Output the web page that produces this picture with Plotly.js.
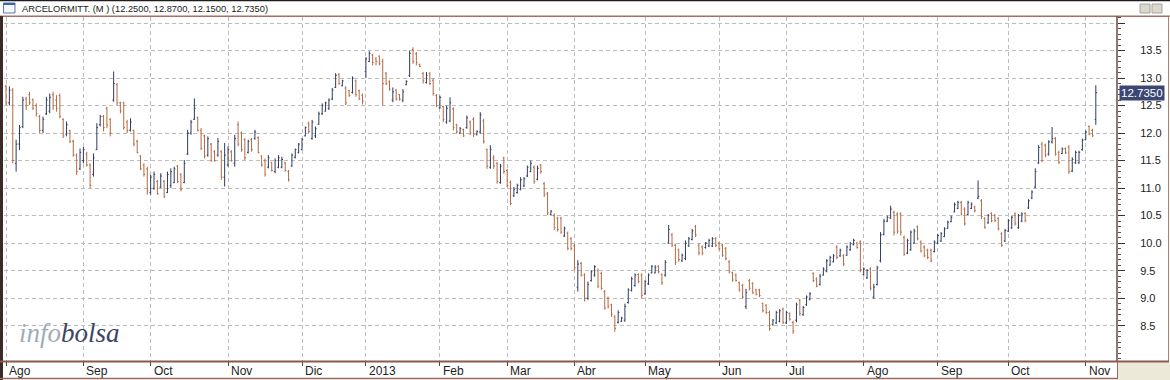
<!DOCTYPE html>
<html>
<head>
<meta charset="utf-8">
<script src="https://cdn.plot.ly/plotly-3.0.1.min.js"></script>
<style>html,body{margin:0;padding:0;background:#fff;}#chart{width:1170px;height:380px;}</style>
</head>
<body>
<div id="chart"></div>
<script>
// Daily OHLC, ArcelorMittal (Madrid), Aug 2012 - Nov 2013
const openP = [
12.85,12.55,12.78,11.45,11.80,12.12,12.62,12.70,12.60,12.50,12.30,12.05,12.35,12.40,12.70,12.60,12.68,12.25,11.98,12.05,11.85,11.60,11.35,
11.50,11.62,11.42,11.25,11.70,12.15,12.30,12.45,12.25,12.60,12.88,12.55,12.55,12.20,12.05,12.05,11.85,11.58,11.42,11.35,
10.92,11.00,11.12,11.02,11.12,10.92,11.05,11.10,11.40,11.25,11.10,11.62,12.00,12.25,12.28,12.05,11.95,11.60,11.80,11.66,11.60,11.66,11.20,
11.42,11.66,11.45,12.15,12.00,11.88,11.65,11.88,11.90,11.92,11.58,11.50,11.38,11.46,11.30,11.38,11.38,11.46,11.30,11.40,11.56,11.65,
11.70,11.95,12.18,11.90,11.95,12.16,12.35,12.40,12.45,12.62,12.83,13.06,12.86,12.82,12.77,12.74,12.95,12.77,12.68,
13.12,13.30,13.42,13.35,13.40,13.30,13.08,12.93,12.60,12.78,12.70,12.60,12.88,13.05,13.52,13.44,13.25,13.08,12.92,13.08,12.96,12.68,
12.46,12.48,12.20,12.22,12.44,12.15,12.00,12.06,12.10,12.20,12.25,11.97,12.02,12.22,11.70,11.38,11.55,11.45,11.10,11.55,
11.32,11.10,10.86,10.92,10.98,11.04,11.22,11.30,11.38,11.16,11.42,11.08,10.90,10.52,10.50,10.45,10.45,10.13,10.18,10.08,
9.95,9.20,9.63,9.42,9.00,9.32,9.42,9.50,9.45,9.12,9.00,8.88,8.66,8.56,8.58,8.60,8.92,9.14,9.23,9.43,9.42,
9.08,9.26,9.46,9.46,9.58,9.43,9.42,10.00,10.15,9.96,9.88,9.68,9.72,9.95,10.07,10.30,9.96,9.93,9.92,9.95,9.95,10.08,
10.00,9.96,9.90,9.66,9.46,9.42,9.28,9.23,8.85,9.32,9.27,9.15,9.15,8.90,8.87,8.74,8.52,8.55,8.58,8.80,
8.55,8.72,8.56,8.60,8.96,8.70,8.88,8.98,9.45,9.35,9.25,9.42,9.49,9.60,9.66,9.93,9.77,9.77,9.78,9.88,9.97,10.00,10.02,
9.43,9.37,9.53,9.02,9.25,9.68,10.16,10.40,10.46,10.56,10.53,10.53,10.10,9.82,9.88,10.00,10.30,10.02,9.93,9.87,9.87,9.85,
10.00,10.04,10.12,10.27,10.39,10.57,10.63,10.74,10.62,10.52,10.63,10.66,10.82,10.77,10.45,10.37,10.54,10.51,10.45,10.17,10.04,
10.22,10.28,10.53,10.28,10.40,10.54,10.64,10.82,11.02,11.46,11.80,11.78,11.62,11.84,11.90,11.65,11.63,11.72,11.75,11.31,11.46,11.46,11.70,
11.88,12.12,12.05,12.25
];
const highP = [
12.88,12.85,12.82,11.88,12.15,12.66,12.66,12.75,12.63,12.54,12.33,12.30,12.66,12.72,12.75,12.69,12.72,12.27,12.21,12.06,11.88,11.63,11.72,
11.75,11.66,11.45,11.63,12.18,12.33,12.33,12.48,12.27,13.12,12.91,12.57,12.57,12.24,12.27,12.06,11.88,11.60,11.45,11.39,
11.24,11.30,11.15,11.27,11.15,11.30,11.36,11.39,11.42,11.27,11.51,12.06,12.24,12.63,12.30,12.09,11.97,11.94,11.82,11.69,11.91,11.69,11.82,
11.76,11.69,11.97,12.21,12.03,11.91,11.88,11.91,12.06,11.94,11.60,11.54,11.60,11.48,11.54,11.60,11.57,11.48,11.33,11.63,11.72,11.82,
11.91,12.12,12.21,12.24,12.12,12.39,12.54,12.57,12.63,12.82,13.09,13.09,12.97,12.85,12.79,13.03,12.97,12.79,12.72,
13.38,13.49,13.44,13.38,13.41,13.35,13.11,12.96,12.83,12.80,12.71,12.80,12.96,13.50,13.56,13.47,13.26,13.11,13.11,13.11,12.99,12.71,
12.68,12.50,12.50,12.65,12.47,12.17,12.11,12.08,12.32,12.23,12.29,12.05,12.38,12.26,11.72,11.78,11.60,11.47,11.44,11.57,
11.35,11.14,11.02,11.08,11.20,11.20,11.41,11.50,11.41,11.41,11.44,11.11,10.93,10.60,10.54,10.48,10.48,10.30,10.21,10.11,
9.99,9.69,9.66,9.45,9.30,9.51,9.60,9.54,9.48,9.15,9.03,8.90,8.69,8.78,8.66,8.90,9.18,9.39,9.45,9.45,9.45,
9.33,9.45,9.60,9.60,9.60,9.45,9.69,10.33,10.18,9.99,9.90,9.81,10.05,10.11,10.26,10.33,9.99,9.96,10.02,10.08,10.11,10.11,
10.02,9.99,9.93,9.69,9.48,9.45,9.30,9.26,9.17,9.35,9.29,9.17,9.17,8.92,8.89,8.77,8.62,8.77,8.80,8.83,
8.77,8.74,8.59,8.92,8.99,8.86,9.05,9.11,9.47,9.38,9.44,9.56,9.71,9.77,9.80,9.96,9.90,9.80,9.96,10.02,10.08,10.02,10.05,
9.56,9.53,9.56,9.26,9.59,10.20,10.44,10.50,10.68,10.59,10.56,10.56,10.14,10.08,10.23,10.26,10.32,10.05,9.96,9.90,9.90,10.05,
10.17,10.20,10.29,10.41,10.50,10.74,10.77,10.77,10.65,10.77,10.74,10.68,11.14,10.80,10.47,10.53,10.56,10.53,10.47,10.20,10.26,
10.44,10.50,10.56,10.53,10.56,10.56,10.80,10.96,11.36,11.78,11.84,11.81,11.87,12.11,11.93,11.68,11.74,11.74,11.78,11.56,11.68,11.68,11.90,
12.05,12.14,12.08,12.87
];
const lowP = [
12.51,12.50,11.45,11.30,11.69,12.09,12.42,12.51,12.42,12.30,12.00,12.00,12.33,12.36,12.42,12.39,12.27,11.91,11.94,11.82,11.57,11.24,11.33,
11.45,11.39,11.00,11.21,11.69,12.12,12.03,12.09,11.94,12.57,12.51,12.36,12.06,12.00,12.03,11.76,11.63,11.33,11.21,10.88,
10.88,10.97,10.88,11.00,10.82,10.91,11.00,11.09,11.09,10.94,11.09,11.60,11.97,12.24,12.03,11.69,11.54,11.57,11.48,11.48,11.57,11.15,11.03,
11.39,11.48,11.39,11.76,11.66,11.51,11.63,11.66,11.88,11.63,11.39,11.21,11.36,11.30,11.27,11.36,11.36,11.30,11.12,11.39,11.54,11.63,
11.69,11.94,12.00,11.88,11.91,12.15,12.33,12.39,12.42,12.60,12.82,12.88,12.85,12.51,12.66,12.72,12.66,12.60,12.52,
13.00,13.29,13.23,13.23,13.23,12.50,12.87,12.77,12.56,12.59,12.59,12.56,12.87,13.02,13.26,13.23,13.20,12.90,12.90,12.87,12.68,12.47,
12.44,12.20,12.17,12.20,12.05,11.99,11.99,11.93,12.08,11.96,11.93,11.96,11.99,11.81,11.35,11.35,11.35,11.08,11.08,11.26,
11.02,10.69,10.84,10.90,10.96,11.02,11.20,11.29,11.08,11.14,11.26,10.84,10.51,10.51,10.24,10.21,10.17,10.11,9.87,9.87,
9.51,9.12,9.39,8.94,8.97,9.30,9.39,9.18,9.15,8.79,8.81,8.66,8.39,8.54,8.57,8.57,8.90,9.12,9.21,9.27,9.00,
9.06,9.24,9.45,9.45,9.45,9.24,9.39,9.99,9.93,9.60,9.66,9.66,9.69,9.93,10.05,10.11,9.78,9.78,9.90,9.93,9.93,9.93,
9.87,9.75,9.69,9.45,9.30,9.30,9.12,8.99,8.80,9.14,9.08,9.05,9.02,8.74,8.71,8.41,8.50,8.53,8.56,8.53,
8.53,8.59,8.35,8.56,8.68,8.68,8.86,8.96,9.29,9.20,9.23,9.41,9.47,9.59,9.65,9.71,9.75,9.59,9.77,9.86,9.96,9.90,9.47,
9.41,9.35,9.14,8.99,9.23,9.65,10.14,10.38,10.44,10.14,10.17,10.14,9.77,9.80,9.86,9.99,10.05,9.83,9.74,9.71,9.65,9.83,
9.99,10.02,10.11,10.26,10.38,10.56,10.62,10.50,10.32,10.50,10.62,10.56,10.80,10.44,10.26,10.35,10.38,10.38,10.23,9.93,10.02,
10.20,10.26,10.32,10.26,10.38,10.38,10.62,10.80,11.00,11.44,11.47,11.56,11.59,11.81,11.59,11.44,11.62,11.62,11.26,11.29,11.44,11.44,11.68,
11.87,11.96,11.93,12.15
];
const closeP = [
12.55,12.78,11.50,11.80,12.10,12.60,12.50,12.55,12.45,12.35,12.05,12.25,12.60,12.65,12.50,12.45,12.30,11.95,12.15,11.85,11.60,11.30,11.65,
11.70,11.42,11.05,11.55,12.10,12.30,12.10,12.15,12.00,12.90,12.55,12.40,12.10,12.05,12.20,11.80,11.65,11.35,11.25,10.95,
11.20,11.25,10.90,11.22,10.85,11.25,11.30,11.35,11.12,10.98,11.45,12.00,12.20,12.45,12.05,11.72,11.58,11.90,11.50,11.50,11.85,11.20,11.60,
11.70,11.50,11.90,11.80,11.70,11.55,11.85,11.70,12.02,11.65,11.42,11.25,11.55,11.32,11.50,11.55,11.52,11.32,11.15,11.60,11.70,11.80,
11.88,12.10,12.03,12.20,12.08,12.35,12.50,12.55,12.60,12.78,13.05,12.90,12.95,12.55,12.68,13.00,12.70,12.62,12.58,
13.35,13.45,13.28,13.30,13.26,12.90,12.90,12.80,12.75,12.62,12.62,12.75,12.94,13.45,13.30,13.28,13.21,12.95,13.05,12.90,12.72,12.50,
12.65,12.25,12.45,12.55,12.10,12.02,12.08,11.95,12.28,12.00,11.98,12.03,12.33,11.85,11.40,11.70,11.40,11.12,11.40,11.30,
11.05,10.72,10.98,11.05,11.15,11.17,11.38,11.45,11.12,11.36,11.30,10.88,10.55,10.58,10.28,10.25,10.20,10.27,9.90,9.90,
9.55,9.62,9.42,9.00,9.25,9.48,9.57,9.22,9.18,8.82,8.85,8.70,8.45,8.74,8.64,8.85,9.15,9.35,9.42,9.30,9.05,
9.30,9.42,9.58,9.56,9.48,9.28,9.65,10.25,9.96,9.65,9.70,9.78,10.00,10.08,10.22,10.15,9.82,9.82,10.00,10.05,10.08,9.96,
9.90,9.78,9.72,9.48,9.33,9.32,9.15,9.02,9.10,9.18,9.10,9.07,9.05,8.77,8.74,8.45,8.60,8.74,8.77,8.56,
8.74,8.62,8.40,8.88,8.72,8.83,9.02,9.08,9.32,9.22,9.40,9.53,9.68,9.74,9.77,9.74,9.87,9.62,9.93,9.99,10.05,9.92,9.52,
9.53,9.50,9.18,9.20,9.55,10.15,10.40,10.47,10.62,10.20,10.22,10.20,9.80,10.05,10.20,10.22,10.08,9.86,9.77,9.74,9.68,10.02,
10.14,10.17,10.26,10.38,10.47,10.70,10.74,10.53,10.35,10.74,10.71,10.59,10.85,10.48,10.29,10.50,10.41,10.41,10.26,9.96,10.23,
10.41,10.47,10.35,10.50,10.53,10.41,10.77,10.93,11.30,11.74,11.50,11.60,11.84,11.90,11.62,11.47,11.71,11.64,11.30,11.52,11.65,11.65,11.87,
12.02,11.98,11.95,12.735
];
// First trading day of each month (trading-day number) and its label
const monthStart = [0,23,43,66,88,107,129,149,169,190,212,232,255,277,298,321];
const monthLabel = ["Ago","Sep","Oct","Nov","Dic","2013","Feb","Mar","Abr","May","Jun","Jul","Ago","Sep","Oct","Nov"];
const yTickVals = [8.5,9.0,9.5,10.0,10.5,11.0,11.5,12.0,12.5,13.0,13.5,14.0];
const yTickText = ["8.5","9.0","9.5","10.0","10.5","11.0","11.5","12.0","12.5","13.0","13.5",""];
const titleText = "ARCELORMITT. (M ) (12.2500, 12.8700, 12.1500, 12.7350)";
const lastClose = "12.7350";

const tradingDay = closeP.map((_, i) => i);

// pixel helpers for the frame (plot area: x 4..1117, y 17..361)
const X = px => (px - 4) / 1113;
const Y = py => (361 - py) / 344;
const hline = (py, x0, x1, color, w) => ({type:'line', xref:'paper', yref:'paper', x0:X(x0), x1:X(x1), y0:Y(py), y1:Y(py), line:{color:color, width:w}});
const vline = (px, y0, y1, color, w) => ({type:'line', xref:'paper', yref:'paper', x0:X(px), x1:X(px), y0:Y(y0), y1:Y(y1), line:{color:color, width:w}});

const trace = {
  type: 'ohlc',
  x: tradingDay,
  open: openP, high: highP, low: lowP, close: closeP,
  increasing: {line: {color: '#2f3a5e', width: 1}},
  decreasing: {line: {color: '#b4693f', width: 1}},
  tickwidth: 0.35,
  hoverinfo: 'skip'
};

const gridDash = '4px,3px';
const layout = {
  width: 1170, height: 380,
  margin: {l: 4, r: 53, t: 17, b: 19, pad: 0},
  paper_bgcolor: '#ffffff', plot_bgcolor: '#ffffff',
  showlegend: false,
  font: {family: 'Liberation Sans, Arial, sans-serif', color: '#222'},
  xaxis: {
    range: [-0.6, 330.3], tickmode: 'array', tickvals: monthStart,
    showticklabels: false, ticks: 'outside', ticklen: 4, tickcolor: '#444', tickwidth: 1,
    showgrid: true, gridcolor: '#bdbdbd', griddash: gridDash, gridwidth: 1,
    zeroline: false, showline: false, rangeslider: {visible: false}, fixedrange: true
  },
  yaxis: {
    side: 'right', range: [7.858, 14.11], tickmode: 'array', tickvals: yTickVals, ticktext: yTickText,
    ticks: 'outside', ticklen: 7, tickcolor: '#333', tickwidth: 1,
    tickfont: {family: 'Liberation Sans, Arial, sans-serif', size: 11, color: '#222'},
    ticklabelstandoff: 13,
    minor: {ticks: 'outside', ticklen: 3, tickcolor: '#555', tickmode: 'linear', tick0: 0, dtick: 0.1, showgrid: false},
    showgrid: true, gridcolor: '#bdbdbd', griddash: gridDash, gridwidth: 1,
    zeroline: false, showline: false, fixedrange: true
  },
  shapes: [
    {type:'rect', xref:'paper', yref:'paper', x0:X(1118), x1:X(1171), y0:Y(381), y1:Y(362.5), fillcolor:'#ece9d8', line:{width:0}},
    hline(0.5, 0, 1170, '#1e1e1e', 1.5),
    hline(16.2, 0, 1170, '#a27262', 1.5),
    vline(1.5, 16, 380, '#3a2a28', 3),
    vline(1117, 16, 362, '#6a4a42', 1.5),
    vline(1168.5, 16, 362, '#b08070', 1),
    hline(361.5, 0, 1169, '#8a5a4e', 2),
    hline(378.5, 0, 1118, '#9a6a5e', 1.5),
    vline(1117.5, 362, 379, '#9a6a5e', 1),
    {type:'rect', xref:'paper', yref:'paper', x0:X(3.5), x1:X(15), y0:Y(13), y1:Y(3), fillcolor:'#f4f6fa', line:{color:'#5a78a8', width:1}},
    hline(4, 3.5, 15, '#3d64a8', 2),
    {type:'rect', xref:'paper', yref:'paper', x0:X(1140), x1:X(1150), y0:Y(13), y1:Y(4), fillcolor:'#dcd8d0', line:{color:'#a8a49c', width:1}},
    {type:'rect', xref:'paper', yref:'paper', x0:X(1152), x1:X(1162), y0:Y(13), y1:Y(4), fillcolor:'#dcd8d0', line:{color:'#a8a49c', width:1}}
  ],
  annotations: [
    {xref:'paper', yref:'paper', x:X(20), y:Y(8.5), xanchor:'left', yanchor:'middle', showarrow:false,
     text:titleText, font:{family:'Liberation Sans, Arial, sans-serif', size:9.3, color:'#1a1a1a'}},
    {xref:'paper', yref:'paper', x:X(17), y:Y(333), xanchor:'left', yanchor:'middle', showarrow:false,
     text:'<i><span style="color:#a3abbb">info</span><span style="color:#3a4664">bolsa</span></i>',
     font:{family:'Liberation Serif, DejaVu Serif, serif', size:27}},
    {xref:'paper', yref:'y', x:X(1118.5), y:12.735, xanchor:'left', yanchor:'middle', showarrow:false,
     text:lastClose, bgcolor:'#3a4674', borderpad:1,
     font:{family:'Liberation Sans, Arial, sans-serif', size:11.5, color:'#ffffff'}}
  ].concat(monthStart.map((m, k) => ({
     xref:'x', yref:'paper', x:m, xshift:1, y:Y(370.5), xanchor:'left', yanchor:'middle', showarrow:false,
     text:monthLabel[k], font:{family:'Liberation Sans, Arial, sans-serif', size:12, color:'#222'}
  })))
};

Plotly.newPlot('chart', [trace], layout, {staticPlot: true, displayModeBar: false});
</script>
</body>
</html>
